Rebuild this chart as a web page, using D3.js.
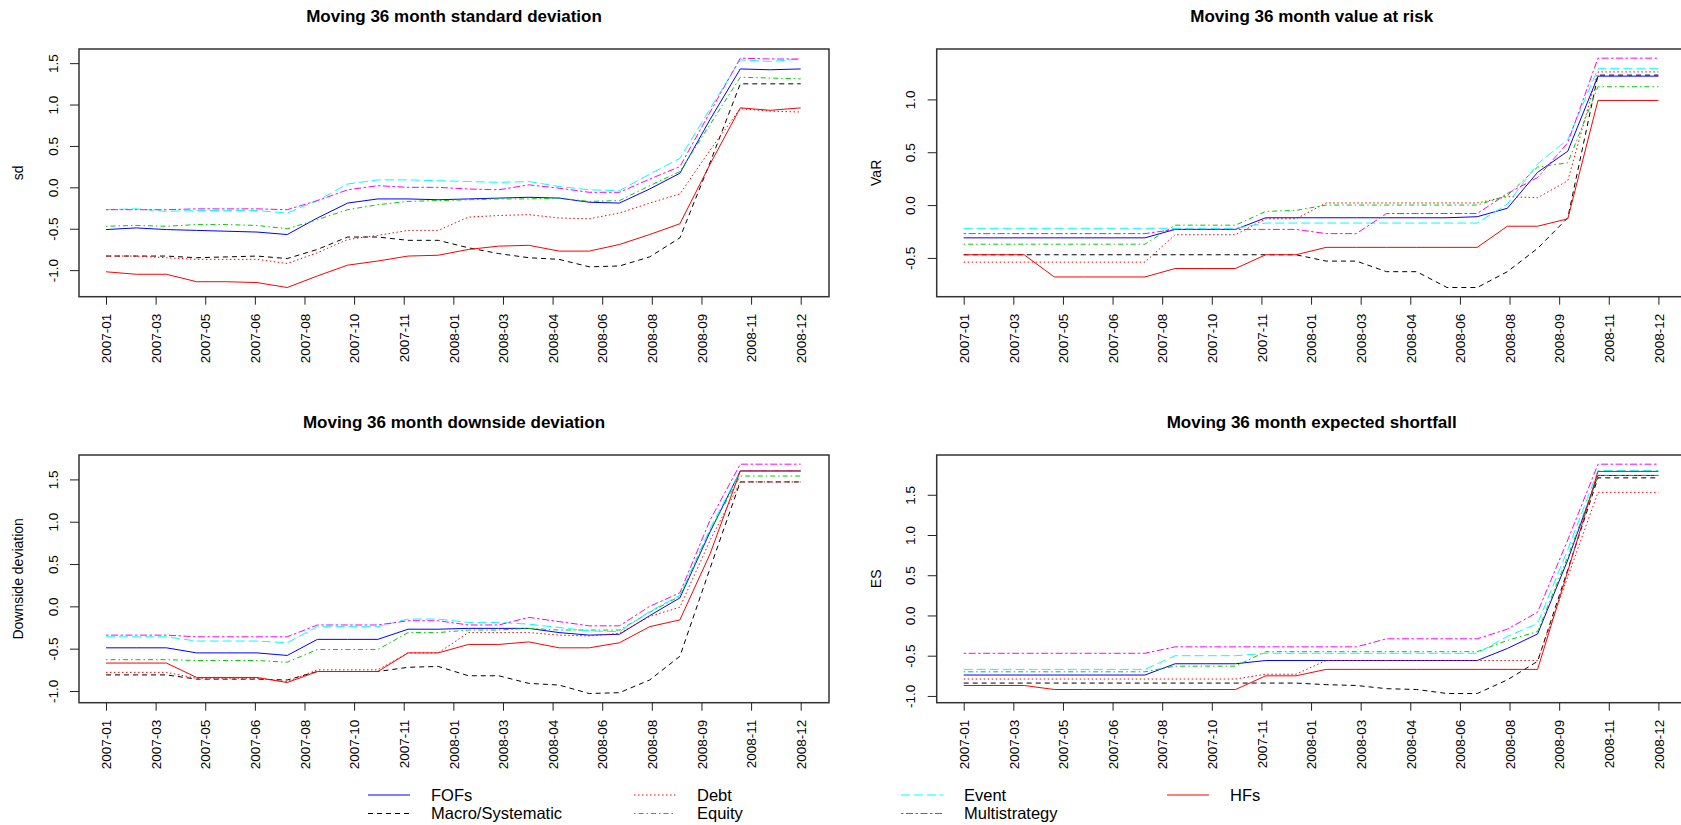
<!DOCTYPE html>
<html>
<head>
<script src="https://d3js.org/d3.v7.min.js"></script>
<style>
    body { margin: 0; background: #fff; }
    svg text { font-family: "Liberation Sans", Arial, sans-serif; fill: #000; }
</style>
</head>
<body>
<svg id="chart"></svg>
<script>
// months of the rolling window (x values)
const months = ["2007-01","2007-02","2007-03","2007-04","2007-05","2007-06","2007-07","2007-08",
    "2007-09","2007-10","2007-11","2007-12","2008-01","2008-02","2008-03","2008-04",
    "2008-05","2008-06","2008-07","2008-08","2008-09","2008-10","2008-11","2008-12"];

// labels shown under the 15 evenly spaced ticks
const tickLabels = ["2007-01","2007-03","2007-05","2007-06","2007-08","2007-10","2007-11",
    "2008-01","2008-03","2008-04","2008-06","2008-08","2008-09","2008-11","2008-12"];

const seriesNames = ["FOFs", "Macro/Systematic", "Debt", "Equity", "Event", "Multistrategy", "HFs"];

const panelTitles = ["Moving 36 month standard deviation", "Moving 36 month value at risk",
    "Moving 36 month downside deviation", "Moving 36 month expected shortfall"];
const yLabels = ["sd", "VaR", "Downside deviation", "ES"];

// one row per series, same order as seriesNames
const sdValues = [
    [-0.51,-0.49,-0.51,-0.52,-0.53,-0.54,-0.57,-0.37,-0.19,-0.14,-0.14,-0.15,-0.14,-0.13,-0.12,-0.13,-0.18,-0.19,-0.02,0.17,0.82,1.43,1.42,1.43],
    [-0.83,-0.83,-0.83,-0.85,-0.84,-0.83,-0.86,-0.75,-0.60,-0.60,-0.64,-0.64,-0.73,-0.80,-0.85,-0.87,-0.96,-0.95,-0.84,-0.61,0.30,1.25,1.25,1.25],
    [-0.83,-0.83,-0.85,-0.87,-0.87,-0.87,-0.92,-0.79,-0.63,-0.58,-0.52,-0.52,-0.36,-0.34,-0.33,-0.37,-0.38,-0.31,-0.19,-0.08,0.45,0.95,0.92,0.91],
    [-0.47,-0.46,-0.47,-0.45,-0.45,-0.46,-0.50,-0.39,-0.27,-0.21,-0.17,-0.16,-0.15,-0.14,-0.14,-0.13,-0.17,-0.16,0.02,0.19,0.76,1.33,1.32,1.31],
    [-0.27,-0.26,-0.29,-0.28,-0.28,-0.28,-0.31,-0.16,0.04,0.09,0.09,0.08,0.07,0.06,0.07,0.01,-0.03,-0.04,0.16,0.35,0.95,1.54,1.52,1.55],
    [-0.27,-0.27,-0.27,-0.26,-0.26,-0.26,-0.27,-0.16,-0.03,0.02,0.00,0.00,-0.02,-0.03,0.03,-0.01,-0.06,-0.06,0.10,0.25,0.91,1.56,1.55,1.55],
    [-1.02,-1.05,-1.05,-1.14,-1.14,-1.15,-1.21,-1.07,-0.94,-0.89,-0.83,-0.82,-0.75,-0.71,-0.70,-0.77,-0.77,-0.69,-0.57,-0.44,0.28,0.96,0.93,0.96]
];

const varValues = [
    [-0.31,-0.31,-0.31,-0.31,-0.31,-0.31,-0.31,-0.23,-0.23,-0.23,-0.12,-0.12,-0.12,-0.12,-0.12,-0.12,-0.12,-0.11,-0.03,0.31,0.51,1.22,1.22,1.22],
    [-0.47,-0.47,-0.47,-0.47,-0.47,-0.47,-0.47,-0.47,-0.47,-0.47,-0.47,-0.47,-0.53,-0.53,-0.63,-0.63,-0.78,-0.78,-0.63,-0.41,-0.12,1.23,1.23,1.23],
    [-0.54,-0.54,-0.54,-0.54,-0.54,-0.54,-0.54,-0.28,-0.28,-0.28,-0.13,-0.13,0.02,0.02,0.02,0.02,0.02,0.02,0.08,0.07,0.23,1.26,1.26,1.26],
    [-0.37,-0.37,-0.37,-0.37,-0.37,-0.37,-0.37,-0.19,-0.19,-0.19,-0.06,-0.05,0.00,0.00,0.00,0.00,0.00,0.00,0.09,0.36,0.40,1.12,1.12,1.12],
    [-0.22,-0.22,-0.22,-0.22,-0.22,-0.22,-0.22,-0.22,-0.22,-0.22,-0.17,-0.17,-0.17,-0.17,-0.17,-0.17,-0.17,-0.17,0.01,0.39,0.62,1.29,1.29,1.29],
    [-0.27,-0.27,-0.27,-0.27,-0.27,-0.27,-0.27,-0.23,-0.23,-0.23,-0.23,-0.23,-0.27,-0.27,-0.08,-0.08,-0.08,-0.08,0.11,0.26,0.59,1.39,1.39,1.39],
    [-0.47,-0.47,-0.47,-0.68,-0.68,-0.68,-0.68,-0.60,-0.60,-0.60,-0.47,-0.47,-0.40,-0.40,-0.40,-0.40,-0.40,-0.40,-0.20,-0.20,-0.13,0.99,0.99,0.99]
];

const ddValues = [
    [-0.49,-0.49,-0.49,-0.55,-0.55,-0.55,-0.58,-0.39,-0.39,-0.39,-0.27,-0.27,-0.26,-0.26,-0.26,-0.31,-0.34,-0.33,-0.11,0.10,0.88,1.60,1.60,1.60],
    [-0.81,-0.81,-0.81,-0.86,-0.86,-0.86,-0.87,-0.77,-0.77,-0.77,-0.72,-0.71,-0.82,-0.82,-0.91,-0.93,-1.03,-1.02,-0.87,-0.59,0.45,1.47,1.47,1.47],
    [-0.78,-0.78,-0.78,-0.85,-0.85,-0.85,-0.89,-0.75,-0.75,-0.75,-0.55,-0.55,-0.31,-0.31,-0.31,-0.34,-0.35,-0.32,-0.12,-0.01,0.78,1.47,1.47,1.47],
    [-0.63,-0.63,-0.63,-0.64,-0.64,-0.64,-0.66,-0.51,-0.51,-0.51,-0.31,-0.31,-0.28,-0.28,-0.26,-0.28,-0.28,-0.28,-0.07,0.12,0.90,1.54,1.54,1.54],
    [-0.36,-0.36,-0.36,-0.41,-0.41,-0.41,-0.43,-0.24,-0.24,-0.24,-0.15,-0.15,-0.19,-0.19,-0.21,-0.25,-0.29,-0.30,-0.06,0.13,0.92,1.60,1.60,1.60],
    [-0.34,-0.34,-0.34,-0.36,-0.36,-0.36,-0.36,-0.22,-0.22,-0.22,-0.17,-0.17,-0.22,-0.22,-0.13,-0.18,-0.23,-0.23,0.00,0.16,1.02,1.68,1.68,1.68],
    [-0.67,-0.67,-0.67,-0.84,-0.84,-0.84,-0.90,-0.77,-0.77,-0.77,-0.55,-0.55,-0.45,-0.45,-0.42,-0.49,-0.49,-0.43,-0.24,-0.16,0.62,1.60,1.60,1.60]
];

const esValues = [
    [-0.74,-0.74,-0.74,-0.74,-0.74,-0.74,-0.74,-0.60,-0.60,-0.60,-0.56,-0.56,-0.56,-0.56,-0.56,-0.56,-0.56,-0.56,-0.41,-0.23,0.69,1.74,1.74,1.74],
    [-0.84,-0.84,-0.84,-0.84,-0.84,-0.84,-0.84,-0.84,-0.84,-0.84,-0.84,-0.84,-0.86,-0.87,-0.91,-0.92,-0.97,-0.97,-0.80,-0.57,0.57,1.71,1.71,1.71],
    [-0.79,-0.79,-0.79,-0.79,-0.79,-0.79,-0.79,-0.79,-0.79,-0.79,-0.73,-0.73,-0.56,-0.56,-0.56,-0.56,-0.56,-0.56,-0.56,-0.56,0.48,1.53,1.53,1.53],
    [-0.70,-0.70,-0.70,-0.70,-0.70,-0.70,-0.70,-0.63,-0.63,-0.63,-0.45,-0.45,-0.45,-0.45,-0.45,-0.45,-0.45,-0.45,-0.31,-0.20,0.73,1.74,1.74,1.74],
    [-0.67,-0.67,-0.67,-0.67,-0.67,-0.67,-0.67,-0.50,-0.50,-0.50,-0.47,-0.47,-0.47,-0.47,-0.47,-0.47,-0.47,-0.47,-0.26,-0.10,0.82,1.80,1.80,1.80],
    [-0.47,-0.47,-0.47,-0.47,-0.47,-0.47,-0.47,-0.39,-0.39,-0.39,-0.39,-0.39,-0.39,-0.39,-0.29,-0.29,-0.29,-0.29,-0.17,0.04,0.94,1.88,1.88,1.88],
    [-0.87,-0.87,-0.87,-0.92,-0.92,-0.92,-0.92,-0.92,-0.92,-0.92,-0.75,-0.75,-0.67,-0.67,-0.67,-0.67,-0.67,-0.67,-0.67,-0.67,0.55,1.79,1.79,1.79]
];

// line styles (R: col 4,1,2,3,5,6,2 / lty 1..6,1)
const seriesColors = ["#0000ff", "#000000", "#ff0000", "#00cd00", "#00ffff", "#ff00ff", "#ff0000"];
const seriesDash = [null, "5,4", "1.5,2.5", "1.5,3,5,3", "9,4", "2.5,2.5,7,2.5", null];

const width = 1681, height = 825;

const svg = d3.select("#chart")
    .attr("width", width)
    .attr("height", height)
    .style("display", "block");

svg.append("rect").attr("width", width).attr("height", height).attr("fill", "#fff");

const boxW = 750, boxH = 247.7, inset = 27;
const panels = [
    { values: sdValues, left: 79, top: 49 },
    { values: varValues, left: 936.7, top: 49 },
    { values: ddValues, left: 79, top: 455 },
    { values: esValues, left: 936.7, top: 455 }
];

panels.forEach(function (p, k) {
    const g = svg.append("g").attr("transform", "translate(" + p.left + "," + p.top + ")");

    const x = d3.scaleLinear()
        .domain([0, months.length - 1])
        .range([inset, boxW - inset - 1.3]);

    // R style: data range padded by 4% on both ends
    const ext = d3.extent(p.values.flat());
    const pad = (ext[1] - ext[0]) * 0.04;
    const y = d3.scaleLinear()
        .domain([ext[0] - pad, ext[1] + pad])
        .range([boxH, 0]);

    const line = d3.line()
        .x(function (d, i) { return x(i); })
        .y(function (d) { return y(d); });

    g.selectAll("path.series")
        .data(p.values)
        .enter()
        .append("path")
        .attr("class", "series")
        .attr("d", line)
        .attr("fill", "none")
        .attr("stroke", function (d, i) { return seriesColors[i]; })
        .attr("stroke-width", 1)
        .attr("stroke-dasharray", function (d, i) { return seriesDash[i]; });

    // box
    g.append("rect")
        .attr("width", boxW)
        .attr("height", boxH)
        .attr("fill", "none")
        .attr("stroke", "#333")
        .attr("stroke-width", 1.5);

    // x axis
    const tickPos = d3.range(tickLabels.length).map(function (i) {
        return i * (months.length - 1) / (tickLabels.length - 1);
    });
    const xAxis = g.append("g")
        .attr("transform", "translate(0," + boxH + ")")
        .call(d3.axisBottom(x)
            .tickValues(tickPos)
            .tickFormat(function (d, i) { return tickLabels[i]; })
            .tickSize(8)
            .tickSizeOuter(0));
    xAxis.select(".domain").remove();
    xAxis.selectAll("line").attr("stroke", "#222");
    xAxis.selectAll("text")
        .attr("transform", "rotate(-90)")
        .attr("x", -17)
        .attr("y", 0)
        .attr("dy", "0.35em")
        .style("text-anchor", "end")
        .style("font-size", "13.5px")
        .attr("fill", "#111");

    // y axis
    const yAxis = g.append("g")
        .call(d3.axisLeft(y)
            .ticks(6)
            .tickFormat(function (d) { return d.toFixed(1); })
            .tickSize(9)
            .tickSizeOuter(0));
    yAxis.select(".domain").remove();
    yAxis.selectAll("line").attr("stroke", "#222");
    yAxis.selectAll("text")
        .attr("transform", "rotate(-90)")
        .attr("x", 0)
        .attr("y", -26)
        .attr("dy", "0.35em")
        .style("text-anchor", "middle")
        .style("font-size", "13.5px")
        .attr("fill", "#111");

    // axis title
    g.append("text")
        .attr("transform", "translate(-61," + (boxH / 2) + ") rotate(-90)")
        .attr("dy", "0.35em")
        .style("text-anchor", "middle")
        .style("font-size", "14px")
        .text(yLabels[k]);

    // main title
    g.append("text")
        .attr("x", boxW / 2)
        .attr("y", -33.3)
        .attr("dy", "0.35em")
        .style("text-anchor", "middle")
        .style("font-size", "17px")
        .style("font-weight", "bold")
        .text(panelTitles[k]);
});

// legend, filled column-wise in 4 columns
const legendCols = [431, 697, 964, 1230];
const legendRows = [795, 813.5];
const legend = svg.selectAll("g.legend")
    .data(seriesNames)
    .enter()
    .append("g")
    .attr("class", "legend")
    .attr("transform", function (d, i) {
        return "translate(" + legendCols[Math.floor(i / 2)] + "," + legendRows[i % 2] + ")";
    });

legend.append("line")
    .attr("x1", -63)
    .attr("x2", -21)
    .attr("y1", 0)
    .attr("y2", 0)
    .attr("stroke", function (d, i) { return seriesColors[i]; })
    .attr("stroke-width", 1)
    .attr("stroke-dasharray", function (d, i) { return seriesDash[i]; });

legend.append("text")
    .attr("x", 0)
    .attr("y", 0)
    .attr("dy", "0.35em")
    .style("font-size", "16.5px")
    .attr("fill", "#111")
    .text(function (d) { return d; });
</script>
</body>
</html>
